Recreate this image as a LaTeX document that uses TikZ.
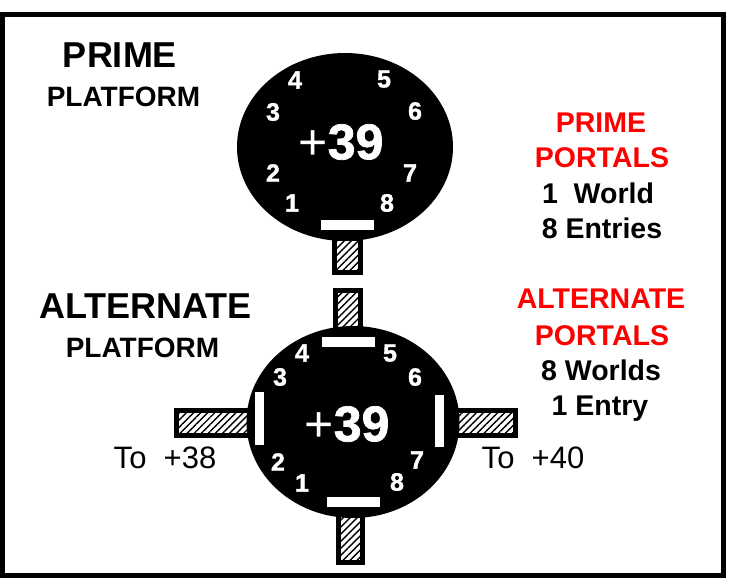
\documentclass[tikz,border=0pt]{standalone}
\usepackage{fontspec}
\setmainfont{Liberation Sans}
\newfontfamily\heavyfont[FakeBold=1.5]{Liberation Sans Bold}
\usetikzlibrary{calc, shapes.geometric, patterns.meta}

\tikzset{
  platform/.style={ellipse, fill=black, inner sep=0pt},
  portnum/.style={text=white, inner sep=0pt, font=\heavyfont\fontsize{25}{25}\selectfont},
  bignum/.style={text=white, inner sep=0pt, font=\fontsize{50}{50}\selectfont},
  gate/.style={fill=white},
  stub/.style={draw=black, line width=5pt, pattern={Lines[angle=45, distance=5pt, line width=1.4pt]}},
  title/.style={anchor=base, inner sep=0pt, font=\bfseries\fontsize{36}{36}\selectfont},
  subtitle/.style={anchor=base, inner sep=0pt, font=\bfseries\fontsize{28}{28}\selectfont},
  portal/.style={anchor=base, inner sep=0pt, font=\bfseries\fontsize{28.5}{28.5}\selectfont},
  dest/.style={anchor=base, inner sep=0pt, font=\fontsize{31}{31}\selectfont}
}

\begin{document}
\begin{tikzpicture}[x=1pt, y=-1pt]
  \useasboundingbox (0,0) rectangle (735,578);
  \draw [line width=5pt] (2.5,14.5) rectangle (723.5,575.5);

  % the two platforms
  \node [platform, minimum width=216pt, minimum height=188pt] (prime) at (345,147) {};
  \node [platform, minimum width=213pt, minimum height=192pt] (alt) at (353,422) {};

  % stubs
  \draw [stub] (334.5,238) rectangle (360.5,272.5);
  \draw [stub] (335.5,290.5) rectangle (360.5,335);
  \draw [stub] (338.5,510) rectangle (362.5,562.5);
  \draw [stub] (176.5,410.5) rectangle (252,435.5);
  \draw [stub] (455,410.5) rectangle (515.5,435.5);

  % gates
  \fill [gate] (321,220) rectangle (374,230);
  \fill [gate] (322,337) rectangle (375,347);
  \fill [gate] (327,497) rectangle (380,507);
  \fill [gate] (255,392) rectangle (264,445);
  \fill [gate] (435,395) rectangle (444,447);

  \node [bignum] (primenum) at ($(prime)+(-4,-5)$) {+{\heavyfont 39}};
  \node [bignum] (altnum) at ($(alt)+(-6,2)$) {+{\heavyfont 39}};

  \foreach \n/\dx/\dy in {1/-53/56, 2/-72/26, 3/-72/-35, 4/-50/-67, 5/39/-68, 6/70/-36, 7/65/26, 8/42/56}
    \node [portnum] (p\n) at ($(prime)+(\dx,\dy)$) {\n};
  \foreach \n/\dx/\dy in {1/-51/61, 2/-75/40, 3/-73/-45, 4/-51/-69, 5/37/-69, 6/62/-45, 7/64/38, 8/44/60}
    \node [portnum] (a\n) at ($(alt)+(\dx,\dy)$) {\n};

  % labels
  \node [title] (ptitle) at (120,67) {PRIME};
  \node [subtitle] (pform) at (123.5,106) {PLATFORM};
  \node [title] (atitle) at (145.5,318) {ALTERNATE};
  \node [subtitle] (aform) at (142.5,357) {PLATFORM};

  \node [portal, text=red] (pp1) at (601,132) {PRIME};
  \node [portal, text=red] (pp2) at (602,167) {PORTALS};
  \node [portal] (pp3) at (598,203) {1\ \ World};
  \node [portal] (pp4) at (602,238) {8 Entries};
  \node [portal, text=red] (ap1) at (601,308) {ALTERNATE};
  \node [portal, text=red] (ap2) at (602,345) {PORTALS};
  \node [portal] (ap3) at (601,380) {8 Worlds};
  \node [portal] (ap4) at (600,415) {1 Entry};

  \node [dest] (to38) at (165,468) {To\ \ +38};
  \node [dest] (to40) at (533,468) {To\ \ +40};
\end{tikzpicture}
\end{document}
